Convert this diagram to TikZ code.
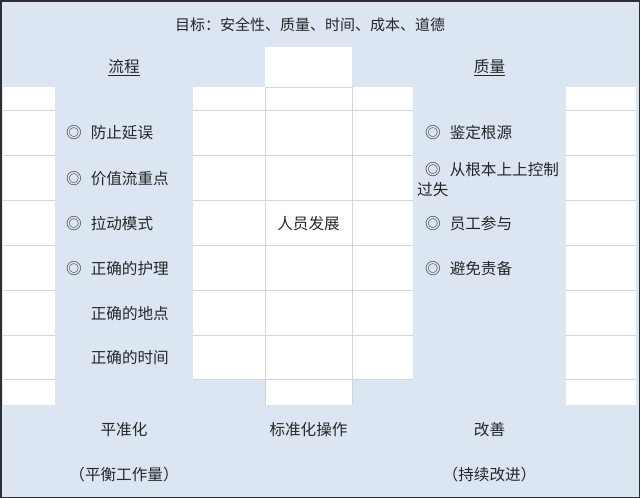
\documentclass[tikz,border=0pt]{standalone}
\usepackage{fontspec}
\newfontfamily\cjk{Noto Sans CJK SC}
\definecolor{houseblue}{RGB}{220,230,242}
\definecolor{gridgray}{RGB}{212,212,212}
\definecolor{framedark}{RGB}{45,45,50}
\newcommand\bul{◎\hspace{9pt}}
\newcommand\nob{\phantom{◎}\hspace{9pt}}
\begin{document}
\begin{tikzpicture}[x=1pt,y=-1pt,
  every node/.style={font=\cjk\fontsize{15.6}{18}\selectfont,text=black!85,inner sep=0pt},
  item/.style={anchor=west}]
\useasboundingbox (0,0) rectangle (640,498);
\fill[houseblue] (0,0) rectangle (640,498);
% white cells
\fill[white] (265,47) rectangle (352,87);
\fill[white] (3,87) rectangle (55,405);
\fill[white] (193,87) rectangle (265,379);
\fill[white] (265,87) rectangle (352,405);
\fill[white] (352,87) rectangle (413,379);
\fill[white] (566,87) rectangle (636,405);
% grid
\foreach \y in {110,155,200,245,290,335,379}
  \draw[gridgray] (3,\y) -- (55,\y) (193,\y) -- (413,\y) (566,\y) -- (636,\y);
\draw[gridgray] (265,87) -- (352,87);
\draw[gridgray] (265,87) -- (265,405) (352,87) -- (352,405);
\draw[framedark,line width=1.5pt] (0.75,0.75) rectangle (639.25,497.25);

\path
(310,25)  node[font=\cjk\fontsize{15}{18}\selectfont] (goal) {目标：安全性、质量、时间、成本、道德}
(124,68)  node (flow) {\underline{流程}}
(489.5,68) node (qual) {\underline{质量}}
(66,133)  node[item] (f1) {\bul 防止延误}
(66,179)  node[item] (f2) {\bul 价值流重点}
(66,224)  node[item] (f3) {\bul 拉动模式}
(66,269)  node[item] (f4) {\bul 正确的护理}
(66,314)  node[item] (f5) {\nob 正确的地点}
(66,358)  node[item] (f6) {\nob 正确的时间}
(308.5,224) node (people) {人员发展}
(425,133) node[item] (q1) {\bul 鉴定根源}
(425,170) node[item] (q2) {\bul 从根本上上控制}
(417,190) node[item] (q2b) {过失}
(425,224) node[item] (q3) {\bul 员工参与}
(425,269) node[item] (q4) {\bul 避免责备}
(124,430) node (level) {平准化}
(124,475) node (levelb) {（平衡工作量）}
(308.5,430) node (std) {标准化操作}
(489.5,430) node (kaizen) {改善}
(489.5,475) node (kaizenb) {（持续改进）};
\end{tikzpicture}
\end{document}
